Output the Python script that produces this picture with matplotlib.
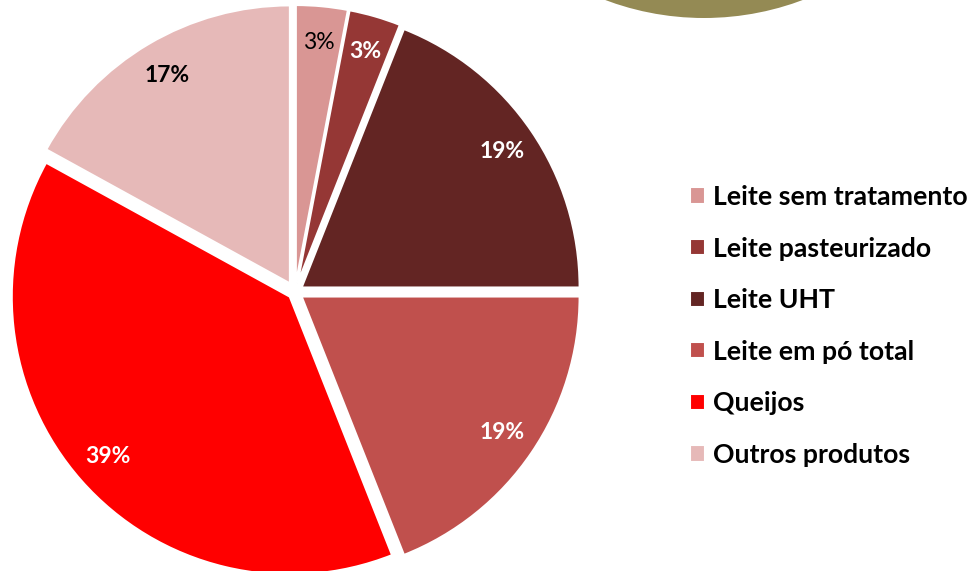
import matplotlib
matplotlib.use("Agg")
import matplotlib.pyplot as plt
from matplotlib.patches import Circle

categories = ["Leite sem tratamento", "Leite pasteurizado", "Leite UHT",
              "Leite em pó total", "Queijos", "Outros produtos"]
shares = [3, 3, 19, 19, 39, 17]
colors = ["#D99694", "#953735", "#632523", "#C0504D", "#FF0000", "#E6B9B8"]
label_colors = ["black", "white", "white", "white", "white", "black"]
label_weights = ["normal", "bold", "bold", "bold", "bold", "bold"]

W, H = 979, 571
fig = plt.figure(figsize=(W / 100, H / 100), dpi=100)
ax = fig.add_axes([0, 0, 1, 1])

# decorative olive disc at the top (partly outside the figure)
ax.add_patch(Circle((704, H + 262), 280, facecolor="#948A54", edgecolor="none", zorder=0))

R = 278
explode = [9, 9, 8, 8, 7, 10]
wedges, texts, autotexts = ax.pie(
    shares, colors=colors, startangle=90, counterclock=False,
    radius=R, center=(295, H - 292), explode=explode,
    autopct=lambda p: f"{p:.0f}%", pctdistance=0.87,
    wedgeprops=dict(edgecolor="white", linewidth=1.5),
    textprops=dict(family="Lato", fontsize=16.5, fontweight="bold"),
)
for t, c, w in zip(autotexts, label_colors, label_weights):
    t.set_color(c)
    t.set_fontweight(w)

ax.set_xlim(0, W)
ax.set_ylim(0, H)
ax.set_aspect("equal")
ax.axis("off")

leg = ax.legend(wedges, categories, loc="upper left", bbox_to_anchor=(690 / W, 1 - 185 / H),
                frameon=False, prop=dict(family="Lato", size=19.2, weight="bold"),
                handlelength=0.56, handleheight=0.56, handletextpad=0.3,
                labelspacing=1.035, borderpad=0, borderaxespad=0)

fig.savefig("out.png", dpi=100)
